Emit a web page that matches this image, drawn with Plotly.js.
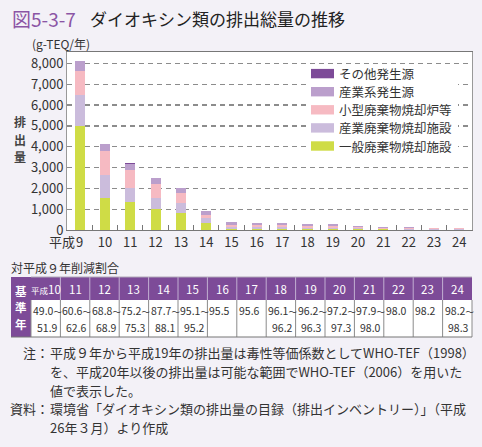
<!DOCTYPE html>
<html><head><meta charset="utf-8">
<script src="https://cdn.plot.ly/plotly-3.0.1.min.js"></script>
<style>html,body{margin:0;padding:0;background:#f3f1f7;}</style>
</head><body><div id="chart" style="width:482px;height:447px;"></div>
<script>
// ---- data ----
const years = ['9','10','11','12','13','14','15','16','17','18','19','20','21','22','23','24'];
const xTickText = ['9','10','11','12','13','14','15','16','17','18','19','20','21','22','23','24'];
const seriesNames = ['一般廃棄物焼却施設','産業廃棄物焼却施設','小型廃棄物焼却炉等','産業系発生源','その他発生源'];
const seriesColors = ['#cfdc46','#cbbcdc','#f6bac2','#bb9fcc','#7d4b98'];
const ippan  = [5000,1550,1350,1020,810,350,70,64,62,58,55,40,25,24,22,21];
const sanhai = [1500,1075,690,540,500,230,80,70,72,62,60,45,28,27,25,24];
const kogata = [1150,1165,840,665,480,150,110,90,90,80,78,55,35,34,31,30];
const sangyo = [470,340,310,290,210,200,105,107,106,95,92,65,42,40,37,35];
const sonota = [5,5,5,5,5,5,5,5,5,5,5,5,5,5,5,5];
const seriesData = [ippan, sanhai, kogata, sangyo, sonota];
const yTicks = [0,1000,2000,3000,4000,5000,6000,7000,8000];
const yTitle = '排出量';

const tableTitle = '対平成９年削減割合';
const tableHead = '基準年';
const tableYears = ['平成10','11','12','13','14','15','16','17','18','19','20','21','22','23','24'];
const tableLow  = ['49.0～','60.6～','68.8～','75.2～','87.7～','95.1～','95.5','95.6','96.1～','96.2～','97.2～','97.9～','98.0','98.2','98.2～'];
const tableHigh = ['51.9','62.6','68.9','75.3','88.1','95.2','','','96.2','96.3','97.3','98.0','','','98.3'];

const noteLines = ['平成９年から平成19年の排出量は毒性等価係数としてWHO-TEF（1998）',
                   'を、平成20年以後の排出量は可能な範囲でWHO-TEF（2006）を用いた',
                   '値で表示した。'];
const sourceLines = ['環境省「ダイオキシン類の排出量の目録（排出インベントリー）」（平成',
                     '26年３月）より作成'];

// ---- layout helpers ----
const W = 482, H = 447;
const px = x => x / W;
const py = y => 1 - y / H;
const FONT = 'Noto Sans CJK JP, Noto Sans, sans-serif';
const PURPLE = '#7d4b98';

const traces = seriesData.map((d, i) => ({
  type: 'bar', x: years, y: d, name: seriesNames[i],
  marker: {color: seriesColors[i], line: {width: 0}},
  showlegend: false, hoverinfo: 'skip'
}));

const annotations = [];
const shapes = [];
function ann(text, x, y, opt) {
  annotations.push(Object.assign({text, x: px(x), y: py(y), xref: 'paper', yref: 'paper',
    showarrow: false, xanchor: 'left', yanchor: 'middle', borderpad: 0,
    font: {family: FONT, size: 13, color: '#333'}}, opt || {}));
  return annotations.length - 1;
}
function rect(x0, y0, x1, y1, fill, layer) {
  shapes.push({type: 'rect', xref: 'paper', yref: 'paper', x0: px(x0), x1: px(x1), y0: py(y1), y1: py(y0),
    fillcolor: fill, line: {width: 0}, layer: layer || 'above'});
}
function lineSeg(x0, y0, x1, y1, color, width) {
  shapes.push({type: 'line', xref: 'paper', yref: 'paper', x0: px(x0), x1: px(x1), y0: py(y0), y1: py(y1),
    line: {color: color, width: width || 1}, layer: 'above'});
}
const smallTilde = s => s.replace('～', '<span style="font-size:8.5px">～</span>');
const smallEra = s => s.replace('平成', '<span style="font-size:8.5px">平成</span>');

// title
ann('図5-3-7', 11, 19, {font: {family: FONT, size: 19, color: '#8b55a5'}});
ann('ダイオキシン類の排出総量の推移', 89, 19, {font: {family: FONT, size: 17, color: '#222'}});
ann('(g-TEQ/年)', 31, 43, {font: {family: FONT, size: 12, color: '#333'}});
// vertical axis title, one character per line
yTitle.split('').forEach((ch, k) => ann('<b>' + ch + '</b>', 20, 121.5 + k * 17.5,
  {xanchor: 'center', font: {family: FONT, size: 12, color: '#444'}}));
// "平成" before first x tick (category index 0)
annotations.push({text: '平成', x: 0, xref: 'x', y: py(242), yref: 'paper', xanchor: 'right',
  yanchor: 'middle', xshift: -4, borderpad: 0, showarrow: false, font: {family: FONT, size: 13, color: '#333'}});

// legend (reversed stack order)
rect(307, 66, 458, 156, '#ffffff');
const LG = 18.1;
for (let k = 0; k < seriesNames.length; k++) {
  const i = seriesNames.length - 1 - k;
  const yc = 109.8 + (k - 2) * LG;
  rect(311, yc - 4.7, 334, yc + 4.7, seriesColors[i]);
  ann(seriesNames[i], 338, yc, {font: {family: FONT, size: 12.5, color: '#333'}});
}

// table
ann(tableTitle, 10, 267, {font: {family: FONT, size: 12, color: '#333'}});
const tL = 11, tC = 31, tR = 472, tTop = 277, tMid = 300, tBot = 337;
const cw = (tR - tC) / tableYears.length;
rect(tL, tTop, tC, tBot, PURPLE);
rect(tC, tTop, tR, tMid, PURPLE);
rect(tC, tMid, tR, tBot, '#ffffff');
tableHead.split('').forEach((ch, k) => ann('<b>' + ch + '</b>', (tL + tC) / 2, 290.5 + k * 16.7,
  {xanchor: 'center', font: {family: FONT, size: 11.5, color: '#ffffff'}}));
for (let j = 0; j < tableYears.length; j++) {
  const x0 = tC + j * cw, x1 = x0 + cw;
  if (j > 0) lineSeg(x0, tTop, x0, tMid, '#c2afd2', 1);
  lineSeg(x0, tMid, x0, tBot, '#8a8a8a', 1);
  ann(smallEra(tableYears[j]), (x0 + x1) / 2, 288.5, {xanchor: 'center', font: {family: FONT, size: 11.5, color: '#ffffff'}});
  ann(smallTilde(tableLow[j]), x0 + 1, 310.5, {font: {family: FONT, size: 10.5, color: '#333'}});
  if (tableHigh[j]) {
    ann(tableHigh[j], x1 - 1.5, 327, {xanchor: 'right', font: {family: FONT, size: 10.5, color: '#333'}});
  }
}
lineSeg(tR, tMid, tR, tBot, '#8a8a8a', 1);
lineSeg(tC, tTop, tR, tTop, '#b0a8b8', 1);
lineSeg(tL, tBot, tR, tBot, '#777', 1.2);

// notes (5 lines centred on the reference block)
const LS = 18.9, n0 = 390 - 2 * LS;
ann('注：', 50, n0, {xanchor: 'right'});
noteLines.forEach((t, k) => ann(t, 49, n0 + k * LS));
ann('資料：', 50, n0 + 3 * LS, {xanchor: 'right'});
sourceLines.forEach((t, k) => ann(t, 49, n0 + (3 + k) * LS));

const layout = {
  width: W, height: H,
  margin: {l: 0, r: 0, t: 0, b: 0},
  paper_bgcolor: '#f3f1f7', plot_bgcolor: '#ffffff',
  barmode: 'stack', bargap: 0.6,
  showlegend: false,
  font: {family: FONT, color: '#333'},
  xaxis: {
    type: 'category', domain: [px(67), px(472)], range: [-0.5, years.length - 0.5],
    tickmode: 'array', tickvals: years, ticktext: xTickText,
    ticks: 'inside', tickson: 'boundaries', ticklen: 5, tickcolor: '#777', tickwidth: 1,
    showline: true, linecolor: '#777', linewidth: 1, mirror: true, showgrid: false,
    tickfont: {family: FONT, size: 13, color: '#333'}, fixedrange: true
  },
  yaxis: {
    domain: [py(230), py(52)], range: [0, 8545],
    tickmode: 'array', tickvals: yTicks, tickformat: ',',
    showgrid: true, gridcolor: '#8c8c8c', gridwidth: 1.3, griddash: '5px,4px',
    showline: true, linecolor: '#999', linewidth: 1, mirror: true, zeroline: false,
    ticks: '', tickfont: {family: FONT, size: 13, color: '#333'}, fixedrange: true
  },
  shapes: shapes,
  annotations: annotations
};

Plotly.newPlot('chart', traces, layout, {staticPlot: true, displayModeBar: false});
</script>
</body></html>
